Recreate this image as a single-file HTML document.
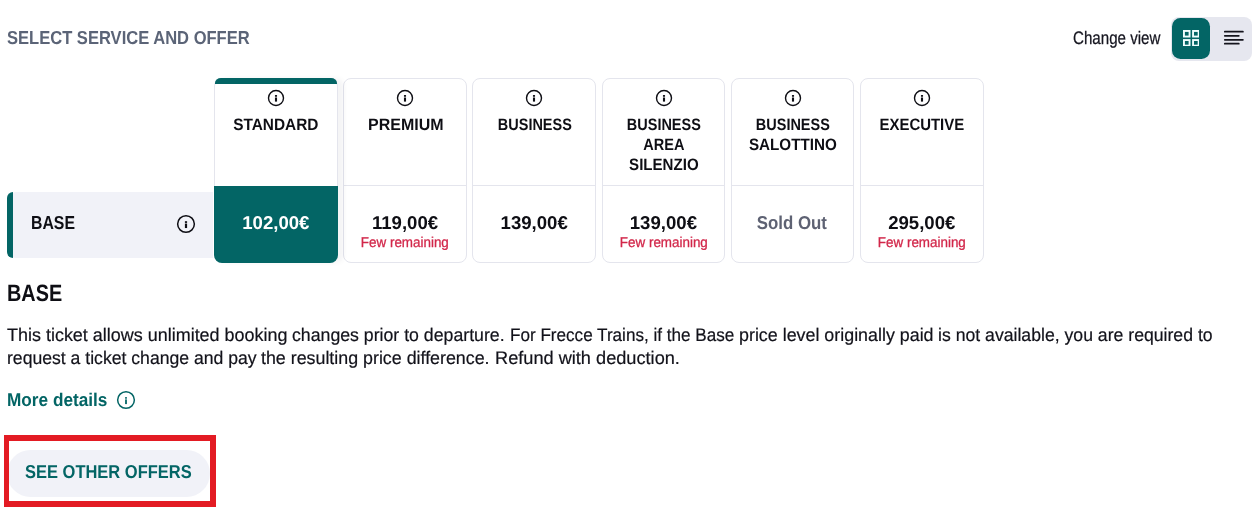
<!DOCTYPE html>
<html lang="en">
<head>
<meta charset="utf-8">
<title>Select service and offer</title>
<style>
  html, body { margin: 0; padding: 0; background: #ffffff; }
  body {
    width: 1260px; height: 511px; position: relative; overflow: hidden;
    font-family: "Liberation Sans", sans-serif; color: #0e0e14;
    -webkit-font-smoothing: antialiased; text-rendering: geometricPrecision;
  }
  .abs { position: absolute; }
  .t { position: absolute; white-space: nowrap; line-height: 1; display: inline-block; transform-origin: 0 50%; }
  .c { transform-origin: 50% 50%; text-align: center; }
  .teal { color: #036565; }

  /* header */
  #title { left: 7px; top: 28.8px; font-size: 18.8px; font-weight: 700; color: #5b6477; transform: scaleX(.881); }
  #chg { left: 1073px; top: 28.8px; font-size: 18.1px; color: #15151f; transform: scaleX(.836); -webkit-text-stroke: .25px #15151f; }
  #toggle { left: 1170.6px; top: 17px; width: 81.4px; height: 43.7px; border-radius: 8px; background: #e6e7ef; }
  #tgOn { left: 1171.7px; top: 17.8px; width: 38.4px; height: 41.2px; border-radius: 8.5px; background: #036565; }

  /* cards */
  .card { position: absolute; top: 78px; height: 184.7px; box-sizing: border-box; border: 1px solid #e4e5ed; border-radius: 8px; background: #fff; }
  .card .div { position: absolute; left: 0; right: 0; top: 106px; height: 1px; background: #e4e5ed; }
  .card.sel { box-shadow: 6px 0 5px rgba(20,20,40,.045); z-index: 2; }
  .card.sel .bar { position: absolute; left: -.2px; right: -.2px; top: -1px; height: 5.9px; background: #036565; border-radius: 6px 6px 0 0 / 5px 5px 0 0; }
  .card.sel .price-bg { position: absolute; left: -1px; right: -1px; top: 107px; bottom: -1.4px; background: #036565; border-radius: 0 0 8px 8px; }
  .name { position: absolute; left: -10px; right: -10px; top: 36.3px; font-size: 16.5px; font-weight: 700; line-height: 20px; text-align: center; color: #0e0e14; }
  .name span { display: block; transform: scaleX(.88); }
  .price { position: absolute; left: 0; right: 0; top: 134.5px; font-size: 18.6px; font-weight: 700; line-height: 1; text-align: center; transform: scaleX(1); }
  .few { position: absolute; left: -10px; right: -10px; top: 157px; font-size: 14.3px; line-height: 1; text-align: center; color: #d2274a; transform: scaleX(.938); -webkit-text-stroke: .3px #d2274a; }
  .ico { position: absolute; }

  /* BASE row */
  #row { left: 7px; top: 192px; width: 206.2px; height: 66px; background: #f1f2f8; border-radius: 9px 0 0 9px; }
  #rowbar { left: 7px; top: 192px; width: 6px; height: 66px; background: #036565; border-radius: 9px 0 0 9px; }
  #rowname { left: 30.7px; top: 213.5px; font-size: 18.8px; font-weight: 700; transform: scaleX(.842); }

  /* description */
  #h2 { left: 6.5px; top: 282.3px; font-size: 23.5px; font-weight: 700; transform: scaleX(.845); }
  .p { left: 7px; font-size: 18.2px; color: #12121a; transform: scaleX(.9); -webkit-text-stroke: .2px #12121a; }
  #more { left: 6.5px; top: 391px; font-size: 18.4px; font-weight: 700; transform: scaleX(.936); }

  /* button */
  #pill { left: 7px; top: 450px; width: 203px; height: 46.5px; border-radius: 24px; background: #f1f2f8; }
  #pilltxt { left: 25.1px; top: 463px; font-size: 18.7px; font-weight: 700; transform: scaleX(.882); }
  #red { left: 4.1px; top: 435.2px; width: 212.1px; height: 71.4px; box-sizing: border-box; border: 6px solid #e31b23; border-left-width: 5.7px; }
</style>
</head>
<body>

<!-- header -->
<span id="title" class="t">SELECT SERVICE AND OFFER</span>
<span id="chg" class="t">Change view</span>
<div id="toggle" class="abs"></div>
<div id="tgOn" class="abs"></div>
<svg class="abs" style="left:1182.6px;top:29.6px" width="16.6" height="16.6" viewBox="0 0 16.6 16.6" fill="none" stroke="#effdfd" stroke-width="1.9">
  <rect x="0.95" y="0.95" width="5.6" height="5.6"/><rect x="10.05" y="0.95" width="5.6" height="5.6"/>
  <rect x="0.95" y="10.05" width="5.6" height="5.6"/><rect x="10.05" y="10.05" width="5.6" height="5.6"/>
</svg>
<svg class="abs" style="left:1223px;top:30px" width="22" height="16" viewBox="0 0 22 16" fill="none" stroke="#14141c" stroke-width="1.75" stroke-linecap="round">
  <path d="M1.8 1.7H19.9M1.8 5.8H15.8M1.8 9.8H19.9M1.8 13.7H15.8"/>
</svg>

<!-- BASE row -->
<div id="row" class="abs"></div>
<div id="rowbar" class="abs"></div>
<span id="rowname" class="t">BASE</span>
<svg class="abs" style="left:176.1px;top:213.56px" width="20" height="20" viewBox="0 0 20 20" fill="none">
  <circle cx="10" cy="10" r="8.35" stroke="#0e0e14" stroke-width="1.5"/>
  <rect x="8.9" y="7.2" width="2.2" height="1.7" fill="#0e0e14"/>
  <rect x="8.9" y="9.55" width="2.2" height="4.5" fill="#0e0e14"/>
</svg>

<!-- cards -->
<div class="card sel" style="left:214.00px;width:123.7px">
  <div class="bar"></div>
  <div class="price-bg"></div>
  <svg class="ico" style="left:50%;margin-left:-8.85px;top:10.2px" width="18" height="18" viewBox="0 0 18 18" fill="none"><circle cx="9" cy="9" r="7.5" stroke="#0e0e14" stroke-width="1.4"/><rect x="7.95" y="6.05" width="2.1" height="1.7" fill="#0e0e14"/><rect x="7.95" y="8.5" width="2.1" height="4.1" fill="#0e0e14"/></svg>
  <div class="name"><span style="transform:scaleX(0.934)">STANDARD</span></div>
  <div class="price" style="color:#fff">102,00€</div>
</div>
<div class="card" style="left:343.18px;width:123.7px">
  <div class="div"></div>
  <svg class="ico" style="left:50%;margin-left:-8.85px;top:10.2px" width="18" height="18" viewBox="0 0 18 18" fill="none"><circle cx="9" cy="9" r="7.5" stroke="#0e0e14" stroke-width="1.4"/><rect x="7.95" y="6.05" width="2.1" height="1.7" fill="#0e0e14"/><rect x="7.95" y="8.5" width="2.1" height="4.1" fill="#0e0e14"/></svg>
  <div class="name" style="left:-9.5px;right:-10.5px"><span style="transform:scaleX(0.969)">PREMIUM</span></div>
  <div class="price">119,00€</div>
  <div class="few">Few remaining</div>
</div>
<div class="card" style="left:472.36px;width:123.7px">
  <div class="div"></div>
  <svg class="ico" style="left:50%;margin-left:-8.85px;top:10.2px" width="18" height="18" viewBox="0 0 18 18" fill="none"><circle cx="9" cy="9" r="7.5" stroke="#0e0e14" stroke-width="1.4"/><rect x="7.95" y="6.05" width="2.1" height="1.7" fill="#0e0e14"/><rect x="7.95" y="8.5" width="2.1" height="4.1" fill="#0e0e14"/></svg>
  <div class="name" style="left:-9.3px;right:-10.7px"><span style="transform:scaleX(0.877)">BUSINESS</span></div>
  <div class="price">139,00€</div>
</div>
<div class="card" style="left:601.54px;width:123.7px">
  <div class="div"></div>
  <svg class="ico" style="left:50%;margin-left:-8.85px;top:10.2px" width="18" height="18" viewBox="0 0 18 18" fill="none"><circle cx="9" cy="9" r="7.5" stroke="#0e0e14" stroke-width="1.4"/><rect x="7.95" y="6.05" width="2.1" height="1.7" fill="#0e0e14"/><rect x="7.95" y="8.5" width="2.1" height="4.1" fill="#0e0e14"/></svg>
  <div class="name"><span style="transform:scaleX(0.877)">BUSINESS</span><span style="transform:scaleX(0.880)">AREA</span><span style="transform:scaleX(0.914)">SILENZIO</span></div>
  <div class="price">139,00€</div>
  <div class="few">Few remaining</div>
</div>
<div class="card" style="left:730.72px;width:123.7px">
  <div class="div"></div>
  <svg class="ico" style="left:50%;margin-left:-8.85px;top:10.2px" width="18" height="18" viewBox="0 0 18 18" fill="none"><circle cx="9" cy="9" r="7.5" stroke="#0e0e14" stroke-width="1.4"/><rect x="7.95" y="6.05" width="2.1" height="1.7" fill="#0e0e14"/><rect x="7.95" y="8.5" width="2.1" height="4.1" fill="#0e0e14"/></svg>
  <div class="name"><span style="transform:scaleX(0.877)">BUSINESS</span><span style="transform:scaleX(0.922)">SALOTTINO</span></div>
  <div class="price" style="color:#5e6273;transform:scaleX(.905);left:-.4px;right:.4px">Sold Out</div>
</div>
<div class="card" style="left:859.90px;width:123.7px">
  <div class="div"></div>
  <svg class="ico" style="left:50%;margin-left:-8.85px;top:10.2px" width="18" height="18" viewBox="0 0 18 18" fill="none"><circle cx="9" cy="9" r="7.5" stroke="#0e0e14" stroke-width="1.4"/><rect x="7.95" y="6.05" width="2.1" height="1.7" fill="#0e0e14"/><rect x="7.95" y="8.5" width="2.1" height="4.1" fill="#0e0e14"/></svg>
  <div class="name"><span style="transform:scaleX(0.905)">EXECUTIVE</span></div>
  <div class="price">295,00€</div>
  <div class="few">Few remaining</div>
</div>


<!-- description -->
<span id="h2" class="t">BASE</span>
<span class="t p" style="left:6.6px;top:326.2px;transform:scaleX(0.9875)">This ticket allows unlimited booking&#32;</span>
<span class="t p" style="left:292.1px;top:326.2px;transform:scaleX(0.9734)">changes prior to departure.&#32;</span>
<span class="t p" style="left:509.6px;top:326.2px;transform:scaleX(0.9400)">For Frecce Trains, if the Base&#32;</span>
<span class="t p" style="left:738.6px;top:326.2px;transform:scaleX(0.9818)">price level originally paid&#32;</span>
<span class="t p" style="left:938.1px;top:326.2px;transform:scaleX(0.9700)">is not available, you are required to</span>
<span class="t p" style="left:6.6px;top:349.2px;transform:scaleX(0.9681)">request a ticket change and pay&#32;</span>
<span class="t p" style="left:261.1px;top:349.2px;transform:scaleX(0.9800)">the resulting price difference.&#32;</span>
<span class="t p" style="left:494.6px;top:349.2px;transform:scaleX(0.9993)">Refund with deduction.</span>
<span id="more" class="t teal">More details</span>
<svg class="abs" style="left:115.65px;top:389.56px" width="20" height="20" viewBox="0 0 20 20" fill="none">
  <circle cx="10" cy="10" r="8.35" stroke="#036565" stroke-width="1.5"/>
  <rect x="9.1" y="7.1" width="1.8" height="1.6" fill="#036565"/>
  <rect x="9.1" y="9.4" width="1.8" height="4.7" fill="#036565"/>
</svg>

<!-- button -->
<div id="pill" class="abs"></div>
<span id="pilltxt" class="t teal">SEE OTHER OFFERS</span>
<div id="red" class="abs"></div>

</body>
</html>
